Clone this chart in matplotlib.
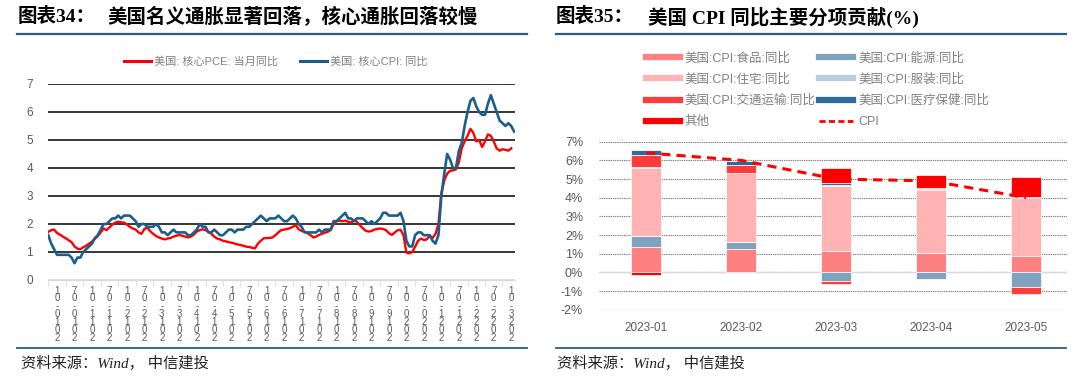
import matplotlib
import numpy as np
import pandas as pd

matplotlib.use("Agg")
from matplotlib import pyplot as plt
from matplotlib.lines import Line2D

plt.rcParams["font.family"] = ["Liberation Sans", "Noto Sans CJK SC", "DejaVu Sans"]

# ---- 图表34 数据：美国核心 PCE / 核心 CPI 同比（%），2010-01 起逐月 ----
core_pce = [
    1.72, 1.78, 1.80, 1.68, 1.62, 1.55, 1.49, 1.42, 1.35, 1.20, 1.12, 1.10,  # 2010
    1.17, 1.22, 1.30, 1.37, 1.47, 1.57, 1.70, 1.84, 1.78, 1.88, 1.98, 2.05,  # 2011
    2.08, 2.06, 2.05, 1.98, 1.90, 1.84, 1.80, 1.70, 1.65, 1.82, 1.88, 1.74,  # 2012
    1.65, 1.57, 1.52, 1.48, 1.45, 1.48, 1.50, 1.55, 1.58, 1.61, 1.58, 1.55,  # 2013
    1.52, 1.55, 1.62, 1.73, 1.78, 1.81, 1.78, 1.73, 1.65, 1.55, 1.48, 1.45,  # 2014
    1.40, 1.38, 1.35, 1.33, 1.30, 1.27, 1.25, 1.22, 1.19, 1.18, 1.15, 1.13,  # 2015
    1.30, 1.40, 1.49, 1.50, 1.50, 1.52, 1.60, 1.70, 1.78, 1.80, 1.82, 1.85,  # 2016
    1.90, 1.96, 1.81, 1.75, 1.73, 1.67, 1.61, 1.52, 1.55, 1.61, 1.65, 1.69,  # 2017
    1.72, 1.79, 2.00, 2.10, 2.12, 2.10, 2.12, 2.08, 2.05, 2.12, 2.08, 1.96,  # 2018
    1.85, 1.76, 1.73, 1.75, 1.80, 1.82, 1.84, 1.82, 1.78, 1.67, 1.61, 1.70,  # 2019
    1.78, 1.79, 1.60, 0.98, 0.95, 1.00, 1.19, 1.40, 1.48, 1.43, 1.45, 1.58,  # 2020
    1.50, 1.65, 2.00, 3.10, 3.55, 3.80, 3.90, 3.92, 3.95, 4.20, 4.70, 4.95,  # 2021
    5.15, 5.40, 5.25, 4.95, 5.00, 4.75, 4.95, 5.20, 5.15, 4.95, 4.70, 4.62,  # 2022
    4.67, 4.65, 4.62, 4.70,                                                  # 2023
]
core_cpi = [
    1.6, 1.3, 1.1, 0.9, 0.9, 0.9, 0.9, 0.9, 0.8, 0.6, 0.8, 0.8,  # 2010
    1.0, 1.1, 1.2, 1.3, 1.5, 1.6, 1.8, 2.0, 2.0, 2.1, 2.2, 2.2,  # 2011
    2.3, 2.2, 2.3, 2.3, 2.3, 2.2, 2.1, 1.9, 2.0, 2.0, 1.9, 1.9,  # 2012
    1.9, 2.0, 1.9, 1.7, 1.7, 1.6, 1.7, 1.8, 1.7, 1.7, 1.7, 1.7,  # 2013
    1.6, 1.6, 1.7, 1.8, 2.0, 1.9, 1.9, 1.7, 1.7, 1.8, 1.7, 1.6,  # 2014
    1.6, 1.7, 1.8, 1.8, 1.7, 1.8, 1.8, 1.8, 1.9, 1.9, 2.0, 2.1,  # 2015
    2.2, 2.3, 2.2, 2.1, 2.2, 2.2, 2.2, 2.3, 2.2, 2.1, 2.1, 2.2,  # 2016
    2.3, 2.2, 2.0, 1.9, 1.7, 1.7, 1.7, 1.7, 1.7, 1.8, 1.7, 1.8,  # 2017
    1.8, 1.8, 2.1, 2.1, 2.2, 2.3, 2.4, 2.2, 2.2, 2.1, 2.2, 2.2,  # 2018
    2.2, 2.1, 2.0, 2.1, 2.0, 2.1, 2.2, 2.4, 2.4, 2.3, 2.3, 2.3,  # 2019
    2.3, 2.4, 2.1, 1.4, 1.2, 1.2, 1.6, 1.7, 1.7, 1.6, 1.6, 1.6,  # 2020
    1.4, 1.3, 1.6, 3.0, 3.8, 4.5, 4.3, 4.0, 4.0, 4.6, 4.9, 5.5,  # 2021
    6.0, 6.4, 6.5, 6.2, 6.0, 5.9, 5.9, 6.3, 6.6, 6.3, 6.0, 5.7,  # 2022
    5.6, 5.5, 5.6, 5.5, 5.3,                                     # 2023
]
months = pd.date_range("2010-01", periods=len(core_cpi), freq="MS")
label_months = months[::6][:27]
left_tick_labels = [d.strftime("%Y-%m") for d in label_months]

# ---- 图表35 数据：美国 CPI 同比分项贡献（%） ----
periods = ["2023-01", "2023-02", "2023-03", "2023-04", "2023-05"]
food = [1.35, 1.25, 1.12, 1.02, 0.88]
energy = [0.62, 0.36, -0.45, -0.34, -0.79]
housing = [3.64, 3.69, 3.52, 3.39, 3.08]
apparel = [0.06, 0.05, 0.05, 0.05, 0.05]
transport = [0.63, 0.40, -0.17, 0.0, -0.37]
medical = [0.25, 0.23, 0.08, 0.07, 0.04]
other = [-0.15, 0.0, 0.80, 0.70, 1.07]
cpi = [6.4, 6.0, 5.0, 4.9, 4.0]

W, H = 1080, 383
fig = plt.figure(figsize=(W / 100, H / 100), dpi=100)


def rect(x0, y_top, x1, y_bottom):
    return [x0 / W, 1 - y_bottom / H, (x1 - x0) / W, (y_bottom - y_top) / H]


rule_color = "#2b5c8c"
grey_text = "#595959"
serif_cjk = ["Liberation Serif", "Noto Sans CJK SC"]

# 标题与上下分隔线
for x0, x1 in [(17, 527), (556, 1066)]:
    fig.add_artist(Line2D([x0 / W, x1 / W], [1 - 33.5 / H] * 2, color=rule_color, lw=1.6))
    fig.add_artist(Line2D([x0 / W, x1 / W], [1 - 348 / H] * 2, color=rule_color, lw=1.3))

title_kw = dict(family=serif_cjk, weight="bold", fontsize=14, va="center")
fig.text(18 / W, 1 - 17 / H, "图表34：", **title_kw)
fig.text(107 / W, 1 - 17 / H, "美国名义通胀显著回落，核心通胀回落较慢", **title_kw)
fig.text(556 / W, 1 - 17 / H, "图表35：", **title_kw)
fig.text(648 / W, 1 - 17 / H, "美国 CPI 同比主要分项贡献(%)", **title_kw)
for x0 in (21, 557):
    fig.text(x0 / W, 1 - 363 / H, "资料来源：Wind， 中信建投", family=serif_cjk,
             style="italic", fontsize=11, va="center", color="#222222")

# ---- 左图 ----
ax = fig.add_axes(rect(48.3, 84, 515, 280))
x_pce = np.arange(len(core_pce))
x_cpi = np.arange(len(core_cpi))
ax.plot(x_pce, core_pce, color="#ff0000", lw=1.7, solid_joinstyle="round", zorder=3)
ax.plot(x_cpi, core_cpi, color="#1b5e8c", lw=1.9, solid_joinstyle="round", zorder=4)
ax.set_xlim(0, 160.3)
ax.set_ylim(0, 7)
ax.set_yticks(range(0, 8))
ax.grid(axis="y", color="black", lw=1.1)
ax.get_ygridlines()[0].set_color("#d9d9d9")
ax.set_axisbelow(True)
for side in ["top", "right", "left"]:
    ax.spines[side].set_visible(False)
ax.spines["bottom"].set_color("#d9d9d9")
ax.tick_params(axis="y", length=0, pad=11, labelsize=8.5, labelcolor=grey_text)
# 竖排标签：字符直立、自下而上排列
ax.set_xticks(np.arange(3, 160, 6))
ax.set_xticklabels(["\n".join(reversed(s)) for s in left_tick_labels],
                   linespacing=0.74, fontsize=7, color=grey_text)
ax.set_xticks(np.arange(0, 161, 6), minor=True)
ax.tick_params(axis="x", which="major", length=0, pad=4)
ax.tick_params(axis="x", which="minor", length=4, color="#d9d9d9")

left_handles = [
    Line2D([], [], color="#ff0000", lw=2.2),
    Line2D([], [], color="#1b5e8c", lw=2.2),
]
fig.legend(left_handles, ["美国: 核心PCE: 当月同比", "美国: 核心CPI: 同比"],
           loc="center", bbox_to_anchor=(276 / W, 1 - 62 / H), ncol=2, frameon=False,
           fontsize=8, handlelength=2.4, handletextpad=0.3, columnspacing=2.0,
           labelcolor="#808080")

# ---- 右图 ----
bx = fig.add_axes(rect(598.5, 141.7, 1067, 309.7))
series = [
    ("美国:CPI:食品:同比", food, "#ff8080"),
    ("美国:CPI:能源:同比", energy, "#7fa3bf"),
    ("美国:CPI:住宅:同比", housing, "#ffb3b3"),
    ("美国:CPI:服装:同比", apparel, "#b7cde0"),
    ("美国:CPI:交通运输:同比", transport, "#ff3c3c"),
    ("美国:CPI:医疗保健:同比", medical, "#2e6b96"),
    ("其他", other, "#ff0000"),
]
xb = np.arange(len(periods))
pos_base = np.zeros(len(periods))
neg_base = np.zeros(len(periods))
for name, vals, color in series:
    v = np.array(vals)
    bottom = np.where(v >= 0, pos_base, neg_base)
    bx.bar(xb, v, bottom=bottom, width=0.31, color=color, edgecolor="white",
           linewidth=0.5, zorder=3)
    pos_base += np.clip(v, 0, None)
    neg_base += np.clip(v, None, 0)
bx.plot(xb, cpi, color="#ff0000", lw=2.2, dashes=(3, 2), zorder=4)

bx.set_xlim(-0.5, 4.43)
bx.set_ylim(-2, 7)
bx.set_yticks(range(-2, 8))
bx.set_yticklabels([f"{v}%" for v in range(-2, 8)])
bx.grid(axis="y", color="#7f7f7f", lw=0.8, dashes=(1.2, 0.8))
bx.axhline(0, color="#d9d9d9", lw=1.0, zorder=2)
bx.set_axisbelow(True)
for side in ["top", "right", "left", "bottom"]:
    bx.spines[side].set_visible(False)
bx.set_xticks(xb)
bx.set_xticklabels(periods)
bx.tick_params(axis="y", length=0, pad=11, labelsize=9, labelcolor=grey_text)
bx.tick_params(axis="x", length=0, pad=9, labelsize=8.5, labelcolor=grey_text)

right_handles = []
right_labels = []
order = [0, 2, 4, 6, 1, 3, 5]
for i in order:
    right_handles.append(Line2D([], [], color=series[i][2], lw=4.5))
    right_labels.append(series[i][0])
right_handles.append(Line2D([], [], color="#ff0000", lw=2.0, dashes=(2.2, 1.2)))
right_labels.append("CPI")
fig.legend(right_handles, right_labels, loc="upper left",
           bbox_to_anchor=(646 / W, 1 - 52 / H), ncol=2, frameon=False,
           fontsize=9, handlelength=2.7, handletextpad=0.4, columnspacing=0.3,
           labelspacing=0.72, borderpad=0, borderaxespad=0, labelcolor="#808080")

fig.savefig("out.png", dpi=100)
plt.close(fig)
